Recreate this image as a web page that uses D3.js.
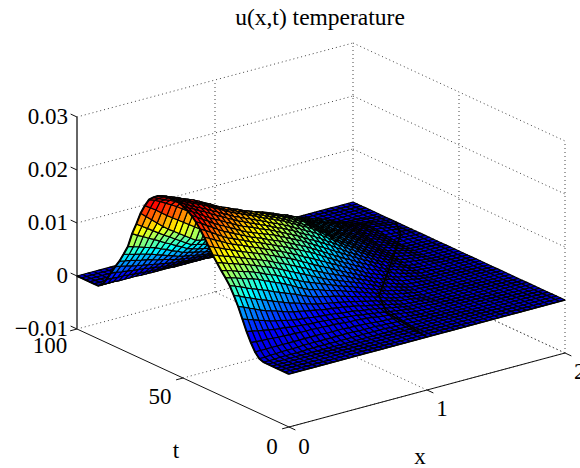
<!DOCTYPE html>
<html lang="en">
<head>
<meta charset="utf-8">
<title>u(x,t) temperature</title>
<script src="https://cdn.jsdelivr.net/npm/d3@7"></script>
<style>
	body{ margin:0; background:#fff; }
	svg text{ font-family:"Liberation Serif",serif; fill:#000; }
	.grid{ fill:none; stroke:#444; stroke-width:1; stroke-dasharray:1 3; }
	.axis{ fill:none; stroke:#111; stroke-width:1; }
	.cell{ stroke:#000; stroke-width:1.15; stroke-linejoin:round; }
</style>
</head>
<body>
<div id="chart"></div>
<script>
var w = 580, h = 468;

var xTicks = [0, 1, 2];
var tTicks = [0, 50, 100];
var zTicks = [-0.01, 0, 0.01, 0.02, 0.03];
var zTickLabels = ["\u22120.01", "0", "0.01", "0.02", "0.03"];

// one row per t = 0,2,...,100, values along x = 0,0.04,...,2 in units of 1e-4
// trailing zeros are left out
var tempRows = [
[],[],[],[],[],[],
[0,0,0,1,1,1,1,1,2,2,2,2,2,2,2,2,2,2,2,2,2,2,2,1,1,1,1,0],
[3,3,4,4,5,5,5,5,6,6,6,6,6,6,6,6,6,6,5,5,5,5,4,4,3,3,2,2,1,1],
[12,12,12,12,12,12,12,12,12,12,12,12,12,11,11,11,11,10,10,9,9,8,7,6,6,5,4,3,2,1],
[26,25,24,24,23,22,22,21,21,20,20,20,19,19,18,18,17,16,15,15,14,13,12,10,9,8,7,5,4,2,1,1],
[43,41,39,37,35,33,32,31,29,28,27,26,25,25,24,23,22,21,20,19,18,16,15,13,12,10,8,7,5,4,2,2,1,1],
[63,59,56,52,49,45,43,41,38,36,34,33,32,30,29,28,27,26,24,23,22,20,18,17,15,13,11,9,7,5,3,2,2,1,1],
[83,79,74,70,65,61,58,55,51,48,45,43,41,39,37,35,33,32,30,29,27,25,23,20,18,16,14,11,9,6,4,3,2,2,1],
[100,96,91,87,82,78,74,70,66,62,58,55,52,48,45,42,40,38,36,34,32,30,27,25,22,20,17,14,12,9,6,5,4,2,1],
[115,111,107,102,98,94,90,86,81,77,73,69,65,60,56,52,49,47,44,42,39,36,33,30,27,24,21,18,14,11,8,6,5,3,2],
[126,123,120,116,113,110,106,101,97,92,88,83,78,72,67,62,59,56,52,49,46,43,39,36,32,29,25,22,18,15,11,9,7,5,3,1,1,1],
[136,133,130,126,123,120,116,112,107,103,99,94,89,83,78,73,69,65,61,57,53,49,45,42,38,34,30,26,22,18,14,12,9,7,4,2,2,1,1],
[147,144,140,137,133,130,126,122,118,114,110,105,100,95,90,85,80,75,70,65,60,56,52,48,44,40,36,31,27,22,18,15,12,9,6,3,2,2,1,1],
[158,154,150,147,143,139,135,131,127,123,119,114,109,105,100,95,90,85,79,74,69,64,60,55,51,46,41,36,32,27,22,19,15,12,8,5,4,3,2,1],
[171,166,162,157,153,148,144,140,136,132,128,123,119,114,110,105,100,94,89,83,78,73,68,62,57,52,47,42,37,32,27,23,19,16,12,8,6,5,3,2],
[184,179,173,168,162,157,153,149,144,140,136,131,127,122,118,113,108,103,97,92,87,81,76,70,65,59,54,48,43,37,32,28,24,19,15,11,9,7,4,2],
[196,190,184,177,171,165,161,156,152,147,143,139,134,130,125,121,116,111,106,101,96,90,84,78,72,66,60,55,49,44,38,33,29,24,20,15,12,9,6,4,1,1,1],
[206,200,193,187,180,174,169,164,159,154,149,145,141,136,132,128,123,118,113,108,103,97,91,85,79,73,67,61,56,50,44,39,34,28,23,18,15,12,8,5,2,2,1,1],
[214,208,201,195,188,182,177,171,166,160,155,151,147,143,139,135,130,125,120,115,110,104,98,92,86,80,74,68,62,56,50,44,39,33,28,22,18,14,11,7,3,2,2,1,1],
[220,214,208,201,195,189,184,178,173,167,162,158,154,149,145,141,136,131,126,121,116,110,104,99,93,87,81,74,68,61,55,49,43,38,32,26,22,17,13,8,4,3,2,2,1],
[224,218,213,207,202,196,190,185,179,174,168,164,159,155,150,146,141,136,132,127,122,116,110,105,99,93,86,80,73,67,60,54,48,42,36,30,25,20,16,11,6,5,4,2,1],
[227,222,216,211,206,201,195,190,184,179,173,169,164,160,155,151,146,141,137,132,127,121,116,110,105,99,92,85,78,71,64,58,52,45,39,33,28,23,18,13,8,6,5,3,2],
[228,223,219,214,210,205,200,194,189,183,178,173,169,164,160,155,150,146,141,137,132,126,121,115,110,104,97,89,82,74,67,61,55,48,42,36,31,26,20,15,10,8,6,4,2],
[228,224,219,215,210,206,201,195,190,184,179,175,170,166,161,157,152,148,143,139,134,129,123,118,112,107,100,92,85,77,70,64,57,51,45,39,34,28,23,17,12,10,7,5,2],
[228,224,220,215,211,207,202,196,191,185,180,176,171,167,162,158,154,149,145,140,136,131,126,120,115,110,102,95,87,80,72,66,60,54,48,42,37,31,25,19,14,11,8,6,3],
[225,221,217,213,208,204,198,193,187,182,176,172,168,163,159,155,151,147,143,139,135,130,125,121,116,111,104,96,89,81,74,68,62,57,51,45,39,33,28,22,16,13,10,6,3],
[221,217,213,209,204,200,194,189,183,178,172,168,164,160,156,152,148,145,141,138,134,130,125,121,116,112,105,97,90,82,75,69,64,58,53,47,41,35,30,24,18,14,11,7,4],
[215,210,205,201,196,191,185,179,172,166,160,156,153,149,146,142,139,136,134,131,128,124,121,117,114,110,103,96,90,83,76,71,65,60,54,49,43,37,32,26,20,16,12,8,4],
[207,203,198,192,186,180,173,166,159,152,145,142,139,136,133,130,128,126,124,122,120,118,115,113,110,108,102,96,89,83,77,72,67,61,56,51,45,39,34,28,22,18,14,9,5,1,1,1],
[192,185,178,170,162,155,148,141,134,127,120,118,115,113,110,108,107,106,105,104,103,102,102,101,101,100,96,91,87,82,78,73,68,63,58,53,47,41,36,30,24,20,15,11,6,2,2,1,1],
[174,165,156,147,138,130,123,116,109,102,95,93,91,89,87,85,85,85,85,85,85,86,87,88,89,90,88,85,83,80,78,73,68,64,59,54,48,43,37,32,26,21,17,12,8,3,2,2,1,1],
[150,143,136,129,122,115,109,102,96,89,83,81,78,76,73,71,71,71,71,71,71,72,73,74,75,76,76,76,77,77,77,73,68,64,59,55,50,44,39,33,28,23,19,14,9,4,3,2,2,1],
[128,122,117,111,106,100,94,89,83,78,72,69,66,64,61,58,58,58,58,58,58,59,60,60,61,62,65,68,70,73,76,72,68,64,60,56,51,45,40,34,29,24,20,15,11,6,5,4,2,1],
[100,97,94,90,87,84,79,75,70,66,61,59,56,54,51,49,49,48,48,47,47,48,49,49,50,51,55,58,62,65,69,66,63,60,57,54,49,44,40,35,30,25,21,16,12,7,6,4,3,1],
[82,79,76,74,71,68,64,61,57,54,50,48,46,44,42,40,39,38,38,37,36,37,38,38,39,40,44,48,52,56,60,58,56,54,52,50,46,42,38,34,30,26,21,17,12,8,6,5,3,2],
[65,63,61,58,56,54,51,48,46,43,40,38,37,35,34,32,31,30,30,29,28,28,29,29,30,30,33,36,39,42,45,44,43,42,41,40,37,34,32,29,26,22,18,15,11,7,6,4,3,1],
[51,49,47,44,42,40,38,36,34,32,30,29,28,26,25,24,23,22,22,21,20,20,20,20,20,20,22,24,26,28,30,30,29,29,28,28,26,25,23,22,20,17,14,12,9,6,5,4,2,1],
[35,34,32,31,29,28,27,25,24,22,21,20,19,19,18,17,16,16,15,15,14,14,14,13,13,13,14,16,17,19,20,20,19,19,18,18,17,16,15,14,13,11,9,8,6,4,3,2,2,1],
[20,19,18,18,17,16,15,14,14,13,12,12,11,11,10,10,10,9,9,8,8,8,8,7,7,7,8,8,9,9,10,10,10,9,9,9,9,8,8,7,7,6,5,5,4,3,2,2,1,1],
[6,6,6,5,5,5,5,4,4,4,4,4,4,3,3,3,3,3,3,3,3,3,2,2,2,2,2,3,3,3,3,3,3,3,3,3,3,2,2,2,2,2,2,1,1,1,1],
[],[],[],[],[],[]
];

// dark crease on the low part of the sheet
var creaseX = [1, 1.06, 1.19, 1.58, 1.9, 2];
var creaseT = [0, 23, 35, 54.5, 71, 80];

var nx = 51, xStep = 0.04, tStep = 2, zUnit = 1e-4;

// oblique box: each data axis moves the pixel along its own direction
var x0 = 289, y0 = 427;
var xToPx = d3.scaleLinear().domain([0, 2]).range([0, 276]);
var xToPy = d3.scaleLinear().domain([0, 2]).range([0, -74]);
var tToPx = d3.scaleLinear().domain([0, 100]).range([0, -212]);
var tToPy = d3.scaleLinear().domain([0, 100]).range([0, -98]);
var zToPy = d3.scaleLinear().domain([-0.01, 0.03]).range([0, -212]);

function project(x, t, z){
	return [x0 + xToPx(x) + tToPx(t), y0 + xToPy(x) + tToPy(t) + zToPy(z)];
}

var jet = d3.scaleLinear()
	.domain([0, 0.0029, 0.0088, 0.0147, 0.0205, 0.0235])
	.range(["#0000e0", "#0000ff", "#00ffff", "#ffff00", "#ff0000", "#800000"])
	.clamp(true);

function zAt(i, j){
	var v = tempRows[i][j];
	return (v === undefined ? 0 : v) * zUnit;
}

var svg = d3.select("#chart").append("svg").attr("width", w).attr("height", h);
var line = d3.line();

// back walls and floor
var gridG = svg.append("g");
function gridLine(a, b){
	gridG.append("path").attr("class", "grid").attr("d", line([project.apply(null, a), project.apply(null, b)]));
}
zTicks.forEach(function(z){
	gridLine([0, 100, z], [2, 100, z]);
	gridLine([2, 100, z], [2, 0, z]);
});
xTicks.slice(1).forEach(function(x){
	gridLine([x, 100, -0.01], [x, 100, 0.03]);
	gridLine([x, 0, -0.01], [x, 100, -0.01]);
});
tTicks.slice(0, 2).forEach(function(t){
	gridLine([2, t, -0.01], [2, t, 0.03]);
	gridLine([0, t, -0.01], [2, t, -0.01]);
});

// axes
var axisG = svg.append("g");
function axisLine(a, b){
	return axisG.append("path").attr("class", "axis").attr("d", line([project.apply(null, a), project.apply(null, b)]));
}
axisLine([0, 0, -0.01], [2, 0, -0.01]);
axisLine([0, 0, -0.01], [0, 100, -0.01]);
axisLine([0, 100, -0.01], [0, 100, 0.03]).style("stroke", "#666").style("stroke-width", 2);
xTicks.forEach(function(x){ axisLine([x, 0, -0.01], [x, -3, -0.01]); });
tTicks.forEach(function(t){ axisLine([0, t, -0.01], [-0.05, t, -0.01]); });
zTicks.forEach(function(z){ axisLine([0, 100, z], [0, 103, z]); });

// surface cells, far corner first
var cells = [];
for (var i = tempRows.length - 2; i >= 0; i--){
	for (var j = nx - 2; j >= 0; j--){
		cells.push({i: i, j: j});
	}
}
svg.append("g").selectAll("path")
	.data(cells)
	.enter()
	.append("path")
	.attr("class", "cell")
	.attr("fill", function(d){ return jet(zAt(d.i, d.j)); })
	.attr("d", function(d){
		var a = d.i, b = d.j;
		return line([
			project(b * xStep, a * tStep, zAt(a, b)),
			project((b + 1) * xStep, a * tStep, zAt(a, b + 1)),
			project((b + 1) * xStep, (a + 1) * tStep, zAt(a + 1, b + 1)),
			project(b * xStep, (a + 1) * tStep, zAt(a + 1, b))
		]) + "Z";
	});

// near edge and crease
svg.append("path")
	.attr("fill", "none").attr("stroke", "#000").attr("stroke-width", 2)
	.attr("d", line(tempRows.map(function(r, k){ return project(0, k * tStep, zAt(k, 0)); })));
svg.append("path")
	.attr("fill", "none").attr("stroke", "#000").attr("stroke-width", 2)
	.attr("d", line(creaseX.map(function(x, k){ return project(x, creaseT[k], 0); })));
svg.append("path")
	.attr("fill", "none").attr("stroke", "#000").attr("stroke-width", 1.6)
	.attr("d", line([project(0, 0, 0), project(2, 0, 0)]));

// text
function label(x, y, s, anchor, size){
	svg.append("text").attr("x", x).attr("y", y).attr("text-anchor", anchor || "middle")
		.attr("font-size", size || 23).text(s);
}
label(320, 25, "u(x,t) temperature", "middle", 23.5);
zTicks.forEach(function(z, k){
	var p = project(0, 100, z);
	label(68, p[1] + 7, zTickLabels[k], "end");
});
label(50, 353, "100");
label(160, 404, "50");
label(272, 454, "0");
label(304, 454, "0");
label(442, 416, "1");
label(574, 379, "2", "start");
label(176, 458, "t");
label(420, 464, "x");
</script>
</body>
</html>
